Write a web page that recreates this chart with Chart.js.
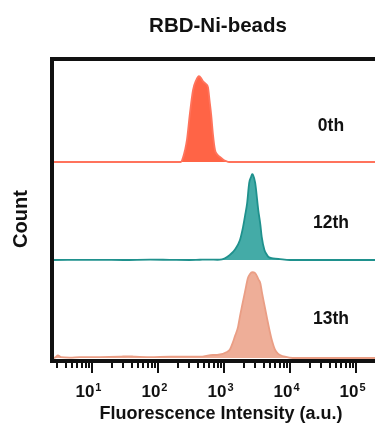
<!DOCTYPE html>
<html><head><meta charset="utf-8">
<script src="https://cdn.jsdelivr.net/npm/chart.js@4/dist/chart.umd.min.js"></script>
<style>html,body{margin:0;padding:0;background:#fff;overflow:hidden}#wrap{width:375px;height:424px;position:relative}</style>
</head><body><div id="wrap"><canvas id="c" width="375" height="424"></canvas></div>
<script>
const chartTitle = 'RBD-Ni-beads';
const xTitle = 'Fluorescence Intensity (a.u.)';
const yTitle = 'Count';
const sampleNames = ['0th', '12th', '13th'];
const tickPowers = [1, 2, 3, 4, 5];

// Fluorescence intensity (a.u.) and normalized counts (peak = 100)
const x0th = [2.48, 223, 239, 257, 275, 305, 340, 377, 418, 449, 481, 534, 573, 604, 640, 681, 731, 783, 868, 966, 1080, 1200, 194000];
const c0th = [0, 0, 5, 14, 26, 57, 84, 95, 100, 98, 94, 91, 87, 72, 55, 32, 14, 9, 6, 3, 1, 0, 0];

const x12th = [2.48, 13, 30, 76, 150, 300, 431, 611, 800, 933, 1035, 1230, 1460, 1740, 1940, 2090, 2240, 2410, 2580, 2670, 2760, 2970, 3310, 3560, 3730, 4090, 4390, 4720, 5520, 7060, 10000, 20000, 194000];
const c12th = [0, 0.2, 0, 0.4, 0.2, 0, 0.3, 0.5, 0.3, 0.8, 2, 6, 12, 23, 38, 52, 66, 90, 97, 100, 99, 90, 58, 41, 27, 12, 7, 3.5, 2, 1, 0, 0, 0];

const x13th = [2.48, 2.75, 3.05, 3.39, 4.64, 6.58, 13.2, 26.6, 35.1, 44.8, 75.6, 152, 305, 431, 681, 784, 1110, 1230, 1360, 1460, 1630, 1740, 1870, 2090, 2300, 2480, 2670, 2970, 3310, 3560, 3730, 4190, 4500, 4970, 5340, 5900, 6560, 7060, 8370, 11000, 20000, 194000];
const c13th = [0, 0.5, 3, 1, 0.5, 1, 1, 1.5, 2, 1.5, 1, 1.5, 1.5, 1.5, 3.5, 3.5, 7, 10, 18, 25, 36, 48, 60, 78, 93, 98, 100, 99, 92, 87, 78, 58, 46, 30, 20, 10, 5, 3.5, 1.5, 0, 0, 0];

const seriesX = [x0th, x12th, x13th];
const seriesC = [c0th, c12th, c13th];
const offsets = [2, 1, 0];
const fills = ['#FF6446', '#44ABA7', '#EEAE98'];
const lines = ['#FF735C', '#1F918D', '#EA9E85'];
const peakScale = 0.875 / 100;

const datasets = seriesX.map((xs, i) => ({
  label: sampleNames[i],
  data: xs.map((xv, j) => ({ x: xv, y: offsets[i] + seriesC[i][j] * peakScale })),
  borderColor: lines[i],
  backgroundColor: fills[i],
  borderWidth: 1.8,
  pointRadius: 0,
  cubicInterpolationMode: 'monotone',
  fill: { value: offsets[i] }
}));

const FONT = '"Liberation Sans", Arial, sans-serif';

const decor = {
  id: 'decor',
  afterDraw(chart) {
    const { ctx, chartArea: a, scales: { x, y } } = chart;
    ctx.save();
    // frame
    ctx.strokeStyle = '#111';
    ctx.lineWidth = 4;
    ctx.lineJoin = 'miter';
    ctx.beginPath();
    ctx.moveTo(a.right + 5, a.top);
    ctx.lineTo(a.left, a.top);
    ctx.lineTo(a.left, a.bottom);
    ctx.lineTo(a.right + 5, a.bottom);
    ctx.stroke();
    // ticks
    ctx.lineWidth = 2;
    for (let k = 0; k <= 5; k++) {
      for (let m = 1; m <= 9; m++) {
        const v = m * Math.pow(10, k);
        if (v < x.min || v > x.max) continue;
        const px = Math.round(x.getPixelForValue(v));
        const len = m === 1 ? 10 : 5;
        ctx.beginPath();
        ctx.moveTo(px, a.bottom + 1);
        ctx.lineTo(px, a.bottom + 2 + len);
        ctx.stroke();
      }
    }
    ctx.fillStyle = '#111';
    // tick labels
    tickPowers.forEach(p => {
      const px = x.getPixelForValue(Math.pow(10, p));
      const s = String(p);
      ctx.font = 'bold 17px ' + FONT;
      const w1 = ctx.measureText('10').width;
      ctx.font = 'bold 11px ' + FONT;
      const w2 = ctx.measureText(s).width;
      const start = px - 3.5 - (w1 + 1 + w2) / 2;
      ctx.textAlign = 'left';
      ctx.textBaseline = 'alphabetic';
      ctx.font = 'bold 17px ' + FONT;
      ctx.fillText('10', start, a.bottom + 36);
      ctx.font = 'bold 11px ' + FONT;
      ctx.fillText(s, start + w1 + 1, a.bottom + 30);
    });
    // chart title
    ctx.textAlign = 'center';
    ctx.font = 'bold 20.5px ' + FONT;
    ctx.fillText(chartTitle, 218, 32);
    // x title
    ctx.font = 'bold 18px ' + FONT;
    ctx.fillText(xTitle, 221, 419);
    // y title
    ctx.save();
    ctx.translate(26.5, 219);
    ctx.rotate(-Math.PI / 2);
    ctx.font = 'bold 20px ' + FONT;
    ctx.fillText(yTitle, 0, 0);
    ctx.restore();
    // sample labels
    ctx.font = 'bold 17.5px ' + FONT;
    const lx = x.getPixelForValue(41800);
    sampleNames.forEach((n, i) => {
      const ly = y.getPixelForValue(offsets[i]) - 31 - i * 1.5;
      ctx.fillText(n, lx, ly);
    });
    ctx.restore();
  }
};

new Chart(document.getElementById('c'), {
  type: 'line',
  data: { datasets },
  options: {
    responsive: false,
    animation: false,
    layout: { padding: { left: 52, top: 59, right: 0, bottom: 63 } },
    plugins: { legend: { display: false }, tooltip: { enabled: false }, title: { display: false } },
    scales: {
      x: { type: 'logarithmic', display: false, min: 2.48, max: 194000 },
      y: { type: 'linear', display: false, min: -0.0306, max: 3.051 }
    }
  },
  plugins: [decor]
});
</script>
</body></html>
